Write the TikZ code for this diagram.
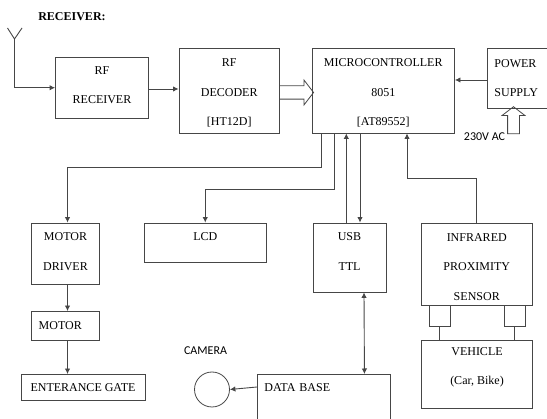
\documentclass[tikz,border=0pt]{standalone}
\usepackage{fontspec}
\setmainfont{Liberation Serif}
\newfontfamily\labelfont{Carlito}
\usetikzlibrary{shapes.arrows,arrows.meta,calc}
\definecolor{boxline}{RGB}{70,70,70}

\begin{document}
\begin{tikzpicture}[x=1pt, y=-1pt,
    blockbox/.style={rectangle, draw=boxline, line width=0.9pt, align=center, inner sep=0pt,
                 font=\fontsize{12}{29.5}\selectfont},
    boxsize/.style 2 args={minimum width=#1pt, minimum height=#2pt},
    arr/.style={-{Latex[length=5.5pt,width=5.5pt]}, line width=0.9pt, boxline},
    wire/.style={line width=0.9pt, boxline},
    bigarr/.style={single arrow, draw=boxline, line width=0.8pt, inner sep=0pt, text depth=0pt, single arrow tip angle=105}
]
\useasboundingbox (0,0) rectangle (547,419);
\clip (0,0) rectangle (547,419);

\node[font=\fontsize{12}{14}\selectfont\bfseries] (title) at (72,17) {RECEIVER:};

\node[blockbox, boxsize={93}{61.5}, text depth=5pt]  (rfrx) at (102,87.75) {RF\\RECEIVER};
\node[blockbox, boxsize={100.5}{84.5}, text height=72pt] (rfdec) at (229.25,90.75) {RF\\DECODER\\{[HT12D]}};
\node[blockbox, boxsize={142.5}{84.5}, text height=72pt] (micro) at (383.25,90.75) {MICROCONTROLLER\\8051\\{[AT89552]}};
\node[blockbox, boxsize={74}{60}, anchor=north west, align=left, text width=60pt, inner xsep=7pt, text depth=31.5pt] (power) at (487,48.5) {POWER\\SUPPLY};

\node[blockbox, boxsize={68}{61}, text depth=4pt]  (driver) at (65.5,253.5) {MOTOR\\DRIVER};
\node[blockbox, boxsize={68}{28.5}, align=left, text width=53.6pt, inner xsep=7.2pt] (motor) at (65.5,325.75) {MOTOR};
\node[blockbox, boxsize={124}{26}] (gate) at (83,387.5) {ENTERANCE GATE};
\node[blockbox, boxsize={121.5}{39}, text depth=12pt] (lcd) at (205.25,242.5) {LCD};
\node[blockbox, boxsize={73}{69}, text depth=12pt]  (usb) at (349.5,257.5) {USB\\TTL};
\node[blockbox, boxsize={110.5}{82}, text height=73pt] (sensor) at (476.75,264) {INFRARED\\PROXIMITY\\SENSOR};
\node[blockbox, boxsize={21.5}{21}] (sensl) at (439.75,315.5) {};
\node[blockbox, boxsize={20.5}{21}] (sensr) at (514.75,315.5) {};
\node[blockbox, boxsize={111}{68}, text depth=16pt] (vehicle) at (477,374) {VEHICLE\\(Car, Bike)};
\node[blockbox, anchor=north west, align=left, text width=119pt, inner xsep=7pt, text height=17pt, text depth=43pt] (db) at (257,374) {DATA BASE};

\node[circle, draw=boxline, line width=0.8pt, minimum size=35pt, inner sep=0pt] (cam) at (212,389.5) {};
\node[font=\labelfont\fontsize{12}{14}\selectfont] (camlabel) at (205.5,350.7) {CAMERA};
\node[font=\labelfont\fontsize{12}{14}\selectfont] (aclabel) at (484.5,137) {230V AC};

% antenna
\coordinate (ant) at (14.5,39);
\coordinate (antl) at (7.5,28);
\coordinate (antr) at (22,28);
\draw[wire] (antl) -- (ant) -- (antr);
\draw[arr] (ant) |- (rfrx.west);

\draw[arr] (rfrx.east |- 0,89) -- (rfdec.west |- 0,89);
\draw[arr] (power.west |- 0,80) -- (micro.east |- 0,80);

% hollow arrows
\node[bigarr, text height=12.5pt, minimum height=34pt, minimum width=24pt, single arrow head extend=5.75pt] (datarr) at (294,92.5) {};
\node[bigarr, text height=11pt, minimum height=27pt, minimum width=22pt, single arrow head extend=5.5pt, rotate=90] (acarr) at (513.5,122.5) {};

% from the controller
\draw[arr] ([xshift=-61.5pt]micro.south) -- ++(0,33.7) -| ([xshift=2pt]driver.north);
\draw[arr] ([xshift=-49pt]micro.south) -- ++(0,56) -| (lcd.north);
\draw[arr] ([xshift=-3.2pt]usb.north) -- ([xshift=-36.95pt]micro.south);
\draw[arr] ([xshift=-23.25pt]micro.south) -- ([xshift=10.5pt]usb.north);
\draw[arr] (sensor.north) -- ++(0,-44.3) -| ([xshift=23.75pt]micro.south);

\draw[arr] ([xshift=2pt]driver.south) -- ([xshift=2pt]motor.north);
\draw[arr] ([xshift=2pt]motor.south) -- ([xshift=-15.5pt]gate.north);
\draw[{Latex[length=5.5pt,width=5.5pt]}-{Latex[length=5.5pt,width=5.5pt]}, wire] ([xshift=14.5pt]usb.south) -- ([xshift=40.5pt]db.north);
\draw[arr] ($(db.north west)+(0,13)$) -- (cam.east);

\draw[wire] (sensl.south) -- (sensl.south |- vehicle.north);
\draw[wire] (sensr.south) -- (sensr.south |- vehicle.north);
\end{tikzpicture}
\end{document}
